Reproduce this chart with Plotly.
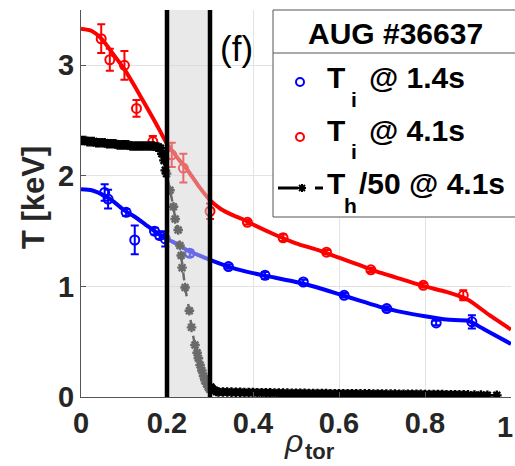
import plotly.graph_objects as go

# ---------------- data ----------------
# Ti @ 1.4s (blue) measured points
ti14_x = [0.055, 0.063, 0.105, 0.125, 0.171, 0.183, 0.196, 0.253, 0.343, 0.428, 0.517, 0.612, 0.711, 0.826, 0.909]
ti14_y = [1.85, 1.79, 1.67, 1.42, 1.50, 1.46, 1.43, 1.30, 1.18, 1.10, 1.04, 0.92, 0.80, 0.67, 0.68]
ti14_e = [0.075, 0.085, 0.03, 0.13, 0.03, 0.03, 0.07, 0.03, 0.02, 0.03, 0.02, 0.02, 0.02, 0.02, 0.06]
# Ti @ 1.4s fit
fit14_x = [0, 0.025, 0.05, 0.075, 0.1, 0.125, 0.15, 0.175, 0.2, 0.225, 0.25, 0.275, 0.3, 0.35, 0.4,
           0.45, 0.5, 0.55, 0.6, 0.65, 0.7, 0.75, 0.8, 0.85, 0.9, 0.925, 0.95, 1.0]
fit14_y = [1.88, 1.87, 1.83, 1.77, 1.69, 1.63, 1.56, 1.49, 1.43, 1.38, 1.32, 1.28, 1.24, 1.17, 1.12,
           1.08, 1.04, 0.99, 0.93, 0.87, 0.81, 0.765, 0.73, 0.70, 0.69, 0.64, 0.585, 0.48]

# Ti @ 4.1s (red) measured points
ti41_x = [0.047, 0.067, 0.101, 0.129, 0.167, 0.211, 0.238, 0.300, 0.387, 0.470, 0.571, 0.674, 0.796, 0.889]
ti41_y = [3.24, 3.05, 3.00, 2.61, 2.31, 2.19, 2.07, 1.68, 1.58, 1.44, 1.31, 1.15, 1.01, 0.92]
ti41_e = [0.13, 0.10, 0.13, 0.075, 0.05, 0.11, 0.13, 0.07, 0.02, 0.03, 0.02, 0.02, 0.02, 0.045]
# Ti @ 4.1s fit
fit41_x = [0, 0.025, 0.05, 0.075, 0.1, 0.125, 0.15, 0.175, 0.2, 0.225, 0.25, 0.275, 0.3, 0.325, 0.35,
           0.375, 0.4, 0.45, 0.5, 0.55, 0.6, 0.65, 0.7, 0.75, 0.8, 0.85, 0.9, 0.95, 1.0]
fit41_y = [3.33, 3.31, 3.23, 3.10, 2.97, 2.81, 2.64, 2.47, 2.29, 2.16, 2.04, 1.90, 1.78, 1.70, 1.65,
           1.61, 1.56, 1.47, 1.39, 1.33, 1.26, 1.19, 1.12, 1.06, 1.00, 0.95, 0.88, 0.74, 0.61]

# Th/50 @ 4.1s (black)
th_x = [0.000, 0.005, 0.010, 0.015, 0.020, 0.025, 0.030, 0.035, 0.040, 0.045, 0.050, 0.055, 0.060,
        0.065, 0.070, 0.075, 0.080, 0.085, 0.090, 0.095, 0.100, 0.105, 0.110, 0.115, 0.120, 0.125,
        0.130, 0.135, 0.140, 0.145, 0.150, 0.155, 0.160, 0.165, 0.170, 0.175, 0.180, 0.185,
        0.188, 0.193, 0.196, 0.199, 0.207, 0.215, 0.219, 0.226, 0.230, 0.233, 0.235, 0.242, 0.252,
        0.257, 0.265, 0.270, 0.273, 0.277, 0.281, 0.285, 0.288, 0.292, 0.296, 0.299, 0.302, 0.305,
        0.310, 0.315, 0.320, 0.330, 0.340, 0.350, 0.360, 0.370, 0.380, 0.390, 0.400, 0.410, 0.420,
        0.430, 0.440, 0.450, 0.460, 0.470, 0.480, 0.490, 0.500, 0.510, 0.520, 0.530, 0.540, 0.550,
        0.560, 0.570, 0.580, 0.590, 0.600, 0.610, 0.620, 0.630, 0.640, 0.650, 0.660, 0.670, 0.680,
        0.690, 0.700, 0.710, 0.720, 0.730, 0.740, 0.750, 0.760, 0.770, 0.780, 0.790, 0.800, 0.810,
        0.820, 0.830, 0.840, 0.850, 0.860, 0.870, 0.880, 0.890, 0.900, 0.915, 0.930, 0.945, 0.967]
th_y = [2.32, 2.32, 2.32, 2.31, 2.31, 2.31, 2.31, 2.30, 2.30, 2.30, 2.30, 2.30, 2.29,
        2.29, 2.29, 2.29, 2.29, 2.28, 2.28, 2.28, 2.28, 2.28, 2.28, 2.27, 2.27, 2.27,
        2.27, 2.27, 2.27, 2.27, 2.27, 2.27, 2.27, 2.27, 2.27, 2.26, 2.26, 2.25,
        2.20, 2.14, 2.05, 2.02, 1.87, 1.72, 1.61, 1.51, 1.37, 1.28, 1.17, 0.99, 0.78,
        0.63, 0.47, 0.40, 0.35, 0.29, 0.24, 0.19, 0.15, 0.12, 0.09, 0.07, 0.09, 0.075,
        0.06, 0.05, 0.045, 0.045, 0.045, 0.044, 0.043, 0.042, 0.041, 0.040, 0.040, 0.039, 0.038,
        0.038, 0.037, 0.036, 0.036, 0.035, 0.035, 0.034, 0.034, 0.033, 0.033, 0.032, 0.032, 0.031,
        0.031, 0.031, 0.030, 0.030, 0.030, 0.030, 0.029, 0.029, 0.029, 0.028, 0.028, 0.028, 0.027,
        0.027, 0.027, 0.026, 0.026, 0.026, 0.025, 0.025, 0.025, 0.024, 0.024, 0.024, 0.023, 0.023,
        0.023, 0.022, 0.022, 0.021, 0.021, 0.020, 0.020, 0.019, 0.019, 0.018, 0.017, 0.016, 0.015]

x_ticks = [0, 0.2, 0.4, 0.6, 0.8, 1]
x_ticklabels = ["0", "0.2", "0.4", "0.6", "0.8", "1"]
y_ticks = [0, 1, 2, 3]
y_ticklabels = ["0", "1", "2", "3"]
band = [0.2, 0.3]  # shaded rho_tor interval

# ---------------- layout geometry (pixels) ----------------
W, H = 515, 466
L, R, T, B = 81, 511, 10, 397


def px(x):
    return (x - L) / (R - L)


def py(y):
    return (B - y) / (B - T)


FONT = "Liberation Sans, Arial, sans-serif"
BLUE = "#0000ff"
RED = "#ff0000"
TICKCOL = "#262626"

fig = go.Figure()

fig.add_trace(go.Scatter(x=fit14_x, y=fit14_y, mode="lines", line=dict(color=BLUE, width=4, shape="spline", smoothing=0.6),
                         showlegend=False, hoverinfo="skip"))
fig.add_trace(go.Scatter(x=fit41_x, y=fit41_y, mode="lines", line=dict(color=RED, width=4, shape="spline", smoothing=0.6),
                         showlegend=False, hoverinfo="skip"))
fig.add_trace(go.Scatter(x=ti14_x, y=ti14_y, mode="markers",
                         marker=dict(symbol="circle-open", size=9, color=BLUE, line=dict(width=2, color=BLUE)),
                         error_y=dict(type="data", array=ti14_e, color=BLUE, thickness=2, width=4),
                         name="Ti @ 1.4s", showlegend=False))
fig.add_trace(go.Scatter(x=ti41_x, y=ti41_y, mode="markers",
                         marker=dict(symbol="circle-open", size=9, color=RED, line=dict(width=2, color=RED)),
                         error_y=dict(type="data", array=ti41_e, color=RED, thickness=2, width=4),
                         name="Ti @ 4.1s", showlegend=False))
fig.add_trace(go.Scatter(x=th_x, y=th_y, mode="lines+markers",
                         line=dict(color="black", width=2.5, dash="8px,8px"),
                         marker=dict(symbol="asterisk-open", size=8, color="black", line=dict(width=2.4, color="black")),
                         name="Th/50 @ 4.1s", showlegend=False))

shapes = []
# shaded band (semi-transparent, above data)
shapes.append(dict(type="rect", xref="x", yref="y", x0=band[0], x1=band[1], y0=0, y1=3.5,
                   fillcolor="rgb(212,212,212)", opacity=0.5, line=dict(width=0), layer="above"))
for xv in band:
    shapes.append(dict(type="line", xref="x", yref="y", x0=xv, x1=xv, y0=0, y1=3.5,
                       line=dict(color="black", width=4.5), layer="above"))

# legend box
shapes.append(dict(type="rect", xref="paper", yref="paper", x0=px(273), x1=px(540), y0=py(217), y1=py(10),
                   fillcolor="white", line=dict(color="#555555", width=1), layer="above"))
shapes.append(dict(type="line", xref="paper", yref="paper", x0=px(273), x1=px(540), y0=py(53), y1=py(53),
                   line=dict(color="#555555", width=1), layer="above"))
# legend glyphs
for cy, col in [(82, BLUE), (137, RED)]:
    shapes.append(dict(type="circle", xref="paper", yref="paper", x0=px(296), x1=px(304), y0=py(cy + 4), y1=py(cy - 4),
                       line=dict(color=col, width=2), fillcolor="rgba(0,0,0,0)", layer="above"))
ly = 188
shapes.append(dict(type="line", xref="paper", yref="paper", x0=px(278), x1=px(298), y0=py(ly), y1=py(ly),
                   line=dict(color="black", width=3), layer="above"))
shapes.append(dict(type="line", xref="paper", yref="paper", x0=px(315), x1=px(323), y0=py(ly), y1=py(ly),
                   line=dict(color="black", width=3), layer="above"))
sx, r = 302, 4
star_path = (f"M {px(sx - r)},{py(ly)} L {px(sx + r)},{py(ly)} "
             f"M {px(sx)},{py(ly - r)} L {px(sx)},{py(ly + r)} "
             f"M {px(sx - 3)},{py(ly - 3)} L {px(sx + 3)},{py(ly + 3)} "
             f"M {px(sx - 3)},{py(ly + 3)} L {px(sx + 3)},{py(ly - 3)}")
shapes.append(dict(type="path", xref="paper", yref="paper", path=star_path,
                   line=dict(color="black", width=2), layer="above"))

annotations = []


def ann(text, x, y, size, xanchor="center", yanchor="middle", bold=True, italic=False, angle=0, color="black"):
    annotations.append(dict(text=text, x=px(x), y=py(y), xref="paper", yref="paper", showarrow=False,
                            xanchor=xanchor, yanchor=yanchor, textangle=angle,
                            font=dict(family=FONT, size=size, color=color,
                                      weight="bold" if bold else "normal",
                                      style="italic" if italic else "normal")))


ann("AUG #36637", 395, 33, 30)
ann("T", 325, 77, 30, xanchor="left")
ann("i", 349, 99, 21, xanchor="left")
ann("@ 1.4s", 367, 77, 30, xanchor="left")
ann("T", 325, 130, 30, xanchor="left")
ann("i", 349, 152, 21, xanchor="left")
ann("@ 4.1s", 367, 130, 30, xanchor="left")
ann("T", 325, 183, 30, xanchor="left")
ann("h", 342, 205, 21, xanchor="left")
ann("/50 @ 4.1s", 357, 183, 30, xanchor="left")
ann("(f)", 236, 49, 35, bold=False)
ann("T [keV]", 33, 198, 31, angle=-90, color=TICKCOL)
ann("ρ", 293, 441, 32, bold=False, italic=True, color=TICKCOL)
ann("tor", 303, 451, 22, xanchor="left", color=TICKCOL)
# last x tick label placed so it stays inside the figure edge
ann(x_ticklabels[-1], 515, 427, 29, xanchor="right", color=TICKCOL)

axis_common = dict(showline=True, linecolor="#555555", linewidth=1, ticks="inside", ticklen=5, tickcolor="#555555",
                   showgrid=True, gridcolor="#e3e3e3", gridwidth=1, zeroline=False,
                   tickfont=dict(family=FONT, size=29, color=TICKCOL, weight="bold"))

fig.update_layout(
    width=W, height=H,
    margin=dict(l=L, r=W - R, t=T, b=H - B),
    paper_bgcolor="white", plot_bgcolor="white",
    showlegend=False,
    xaxis=dict(range=[0, 1], tickvals=x_ticks, ticktext=x_ticklabels[:-1] + [""], **axis_common),
    yaxis=dict(range=[0, 3.5], tickvals=y_ticks, ticktext=y_ticklabels, **axis_common),
    shapes=shapes,
    annotations=annotations,
)

fig.write_html("out.html")
